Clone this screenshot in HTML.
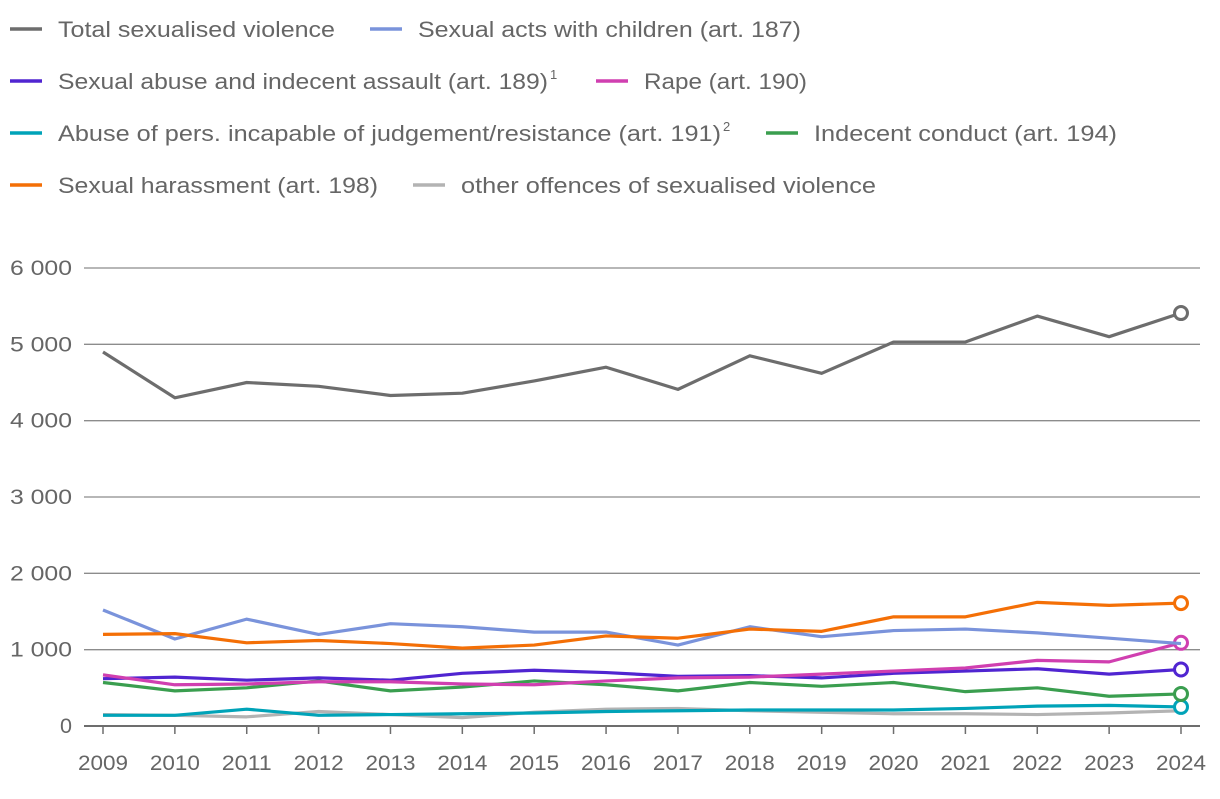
<!DOCTYPE html>
<html><head><meta charset="utf-8"><style>
body{margin:0;background:#fff;font-family:"Liberation Sans",sans-serif;}
svg text{font-family:"Liberation Sans",sans-serif;fill:#666;}
</style></head><body>
<svg id="c" width="1220" height="794">
<g id="legend"></g>
<g id="grid"></g>
<g id="axis"></g>
<g id="series"></g>
</svg>
<script>
const years=[2009,2010,2011,2012,2013,2014,2015,2016,2017,2018,2019,2020,2021,2022,2023,2024];
const yTicks=[0,1000,2000,3000,4000,5000,6000];
const yTickLabels=["0","1 000","2 000","3 000","4 000","5 000","6 000"];
const seriesNames=["Total sexualised violence","Sexual acts with children (art. 187)","Sexual abuse and indecent assault (art. 189)","Rape (art. 190)","Abuse of pers. incapable of judgement/resistance (art. 191)","Indecent conduct (art. 194)","Sexual harassment (art. 198)","other offences of sexualised violence"];
const total=[4900,4300,4500,4450,4330,4360,4520,4700,4410,4850,4620,5030,5030,5370,5100,5410];
const children=[1520,1140,1400,1200,1340,1300,1230,1230,1060,1300,1170,1250,1270,1220,1150,1080];
const abuse189=[620,640,600,630,600,690,730,700,650,660,630,690,720,750,680,740];
const rape=[670,540,550,580,580,550,540,590,630,640,680,720,760,860,840,1090];
const incapable=[140,140,220,140,150,160,170,190,200,210,210,210,230,260,270,250];
const indecent=[570,460,500,590,460,510,590,540,460,570,520,570,450,500,390,420];
const harassment=[1200,1210,1090,1120,1080,1020,1060,1180,1150,1270,1240,1430,1430,1620,1580,1610];
const other=[150,140,120,190,150,110,180,220,230,200,180,160,160,150,170,200];
const colors=["#6d6d6d","#7a93db","#5025d1","#d03fb0","#00a3b8","#3a9e4f","#f46f06","#b3b3b3"];
const NS="http://www.w3.org/2000/svg";
const x=i=>103+i*(1181-103)/(years.length-1);
const y=v=>726-v*(726-268)/6000;
function mk(t,a,p){const e=document.createElementNS(NS,t);for(const k in a)e.setAttribute(k,a[k]);p.appendChild(e);return e;}
const grid=document.getElementById('grid'),axis=document.getElementById('axis'),ser=document.getElementById('series'),leg=document.getElementById('legend');
yTicks.forEach((v,i)=>{
 if(i>0){const l=mk('line',{x1:84,x2:1200,y1:y(v),y2:y(v),stroke:'#8c8c8c','stroke-width':1.3},grid);
 
 }
 const t=mk('text',{x:72,y:y(v)+7,'text-anchor':'end','font-size':21,textLength:yTickLabels[i].length>1?62:12,lengthAdjust:'spacingAndGlyphs'},grid);t.textContent=yTickLabels[i];
 
 
});
const base=mk('line',{x1:84,x2:1200,y1:726,y2:726,stroke:'#6d6d6d','stroke-width':2},axis);


years.forEach((yr,i)=>{
 mk('line',{x1:x(i),x2:x(i),y1:726,y2:734,stroke:'#6d6d6d','stroke-width':1.5},axis);
 const t=mk('text',{x:x(i),y:770,'text-anchor':'middle','font-size':21,textLength:50,lengthAdjust:'spacingAndGlyphs'},axis);t.textContent=yr;
 
 
});
const data=[total,children,abuse189,rape,incapable,indecent,harassment,other];
const order=[7,4,5,2,3,1,6,0];
order.forEach(s=>{
 const d=data[s].map((v,i)=>(i?'L':'M')+x(i)+','+y(v)).join(' ');
 const p=mk('path',{d:d,fill:'none',stroke:colors[s],'stroke-width':3.2,'stroke-linejoin':'round'},ser);
 
 
 if(s!==7&&s!==1){const n=data[s].length-1;
 const c=mk('circle',{cx:x(n),cy:y(data[s][n]),r:6.5,fill:'#fff',stroke:colors[s],'stroke-width':3},ser);
 
 }
});
const legPos=[[10,29],[370,29],[10,81],[596,81],[10,133],[766,133],[10,185],[413,185]];
const legW=[277,383,490,163,663,303,320,415];
const sup=["","","1","","2","","",""];
seriesNames.forEach((n,s)=>{
 const [lx,ly]=legPos[s];
 const g=mk('g',{},leg);
 
 
 mk('line',{x1:lx,x2:lx+32,y1:ly,y2:ly,stroke:colors[s],'stroke-width':3.5},g);
 const t=mk('text',{x:lx+48,y:ly+8,'font-size':22,textLength:legW[s],lengthAdjust:'spacingAndGlyphs'},g);t.textContent=n;
 if(sup[s]){const ts=mk('text',{x:lx+48+legW[s]+2,y:ly-2,'font-size':13},g);ts.textContent=sup[s];
 
 }
});
</script>
</body></html>
